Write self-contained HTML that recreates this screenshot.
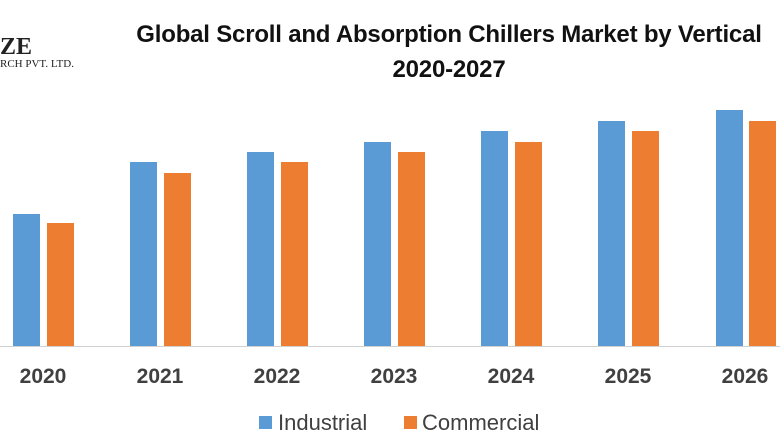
<!DOCTYPE html>
<html><head><style>
body{margin:0;width:780px;height:440px;background:#fff;position:relative;overflow:hidden;font-family:"Liberation Sans",sans-serif}
.t{position:absolute;left:99px;width:700px;text-align:center;font-weight:bold;font-size:24px;color:#111;letter-spacing:-0.2px}
.b{position:absolute;width:27px}
.i{background:#5b9bd5}.c{background:#ed7d31}
.y{position:absolute;top:365px;width:90px;text-align:center;font-weight:bold;font-size:21px;color:#404040}
</style></head><body>
<div style="position:absolute;left:0;top:34px;font-family:'Liberation Serif',serif;font-size:24px;font-weight:bold;color:#222">ZE</div>
<div style="position:absolute;left:0;top:58px;font-family:'Liberation Serif',serif;font-size:11px;color:#222">RCH PVT. LTD.</div>
<div class="t" style="top:21px">Global Scroll and Absorption Chillers Market by Vertical</div>
<div class="t" style="top:56px">2020-2027</div>
<div style="position:absolute;left:0;top:346px;width:780px;height:1px;background:#d0d0d0"></div>
<div class="b i" style="left:13px;top:214px;height:132px"></div><div class="b c" style="left:47px;top:223px;height:123px"></div>
<div class="b i" style="left:130px;top:162px;height:184px"></div><div class="b c" style="left:164px;top:173px;height:173px"></div>
<div class="b i" style="left:247px;top:152px;height:194px"></div><div class="b c" style="left:281px;top:162px;height:184px"></div>
<div class="b i" style="left:364px;top:142px;height:204px"></div><div class="b c" style="left:398px;top:152px;height:194px"></div>
<div class="b i" style="left:481px;top:131px;height:215px"></div><div class="b c" style="left:515px;top:142px;height:204px"></div>
<div class="b i" style="left:598px;top:121px;height:225px"></div><div class="b c" style="left:632px;top:131px;height:215px"></div>
<div class="b i" style="left:716px;top:110px;height:236px"></div><div class="b c" style="left:749px;top:121px;height:225px"></div>
<div class="y" style="left:-2px">2020</div><div class="y" style="left:115px">2021</div><div class="y" style="left:232px">2022</div><div class="y" style="left:349px">2023</div><div class="y" style="left:466px">2024</div><div class="y" style="left:583px">2025</div><div class="y" style="left:700px">2026</div>
<div style="position:absolute;left:259px;top:416px;width:13px;height:13px;background:#5b9bd5"></div>
<div style="position:absolute;left:278px;top:410px;font-size:22px;color:#404040">Industrial</div>
<div style="position:absolute;left:404px;top:416px;width:13px;height:13px;background:#ed7d31"></div>
<div style="position:absolute;left:422px;top:410px;font-size:22px;color:#404040">Commercial</div>
</body></html>
